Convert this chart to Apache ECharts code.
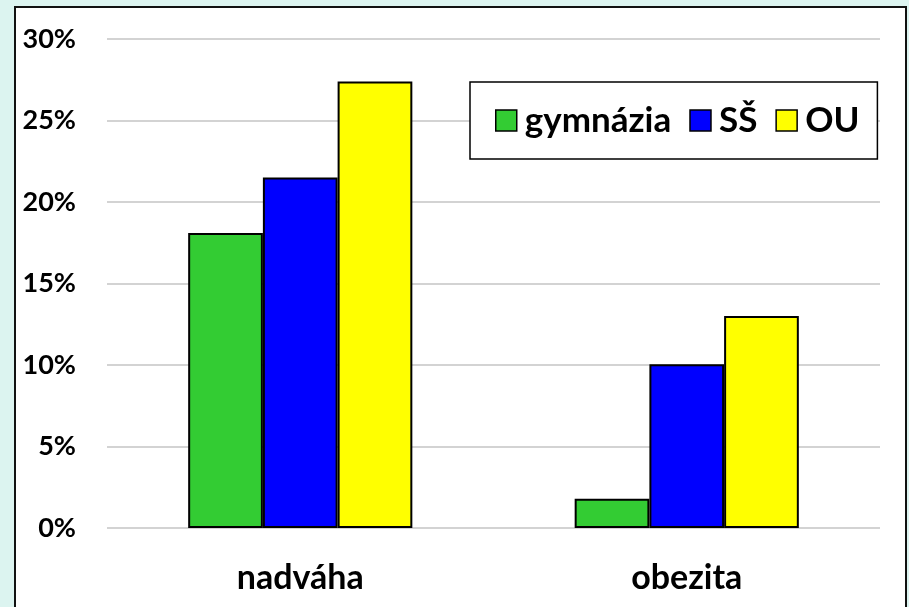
<!DOCTYPE html>
<html>
<head>
<meta charset="utf-8">
<script src="https://cdn.jsdelivr.net/npm/echarts@6/dist/echarts.min.js"></script>
<style>
  html, body { margin: 0; padding: 0; background: #dcf4f0; }
  #chart { width: 909px; height: 607px; }
</style>
</head>
<body>
<div id="chart"></div>
<script>
// data (percent)
const categories = ['nadváha', 'obezita']
const gymnazia = [18.1, 1.8]
const ss = [21.5, 10.05]
const ou = [27.4, 13.0]
const seriesNames = ['gymnázia', 'SŠ', 'OU']
const colors = ['#33cc33', '#0000ff', '#ffff00']

const chart = echarts.init(document.getElementById('chart'))

const font = 'Lato, "Open Sans", sans-serif'

function barSeries(name, data, color) {
  return {
    name: name,
    type: 'bar',
    data: data,
    barGap: '0%',
    barCategoryGap: '42%',
    itemStyle: { color: color, borderColor: '#000', borderWidth: 2 },
    emphasis: { disabled: true }
  }
}

const option = {
  backgroundColor: '#dcf4f0',
  animation: false,
  graphic: [{
    type: 'rect',
    z: -10,
    shape: { x: 15, y: 7, width: 891, height: 620 },
    style: { fill: '#fff', stroke: '#111', lineWidth: 2 }
  }],
  color: colors,
  legend: {
    data: seriesNames,
    left: 470,
    top: 82,
    padding: [21, 18, 21, 25],
    itemGap: 18,
    itemWidth: 21,
    itemHeight: 21,
    icon: 'rect',
    backgroundColor: '#fff',
    borderColor: '#000',
    borderWidth: 1.5,
    borderRadius: 0,
    selectedMode: false,
    itemStyle: { borderColor: '#000', borderWidth: 1.5 },
    textStyle: { fontFamily: font, fontWeight: 'bold', fontSize: 35, color: '#000', padding: [0, 0, 0, 3] }
  },
  grid: { left: 107, right: 29, top: 39, bottom: 79 },
  xAxis: {
    type: 'category',
    data: categories,
    axisLine: { show: false },
    axisTick: { show: false },
    axisLabel: { margin: 33, fontFamily: font, fontWeight: 'bold', fontSize: 34, color: '#000' }
  },
  yAxis: {
    type: 'value',
    min: 0,
    max: 30,
    interval: 5,
    axisLine: { show: false },
    axisTick: { show: false },
    splitLine: { lineStyle: { color: '#c4c4c4', width: 1.5 } },
    axisLabel: {
      margin: 31,
      formatter: '{value}%',
      fontFamily: font,
      fontWeight: 'bold',
      fontSize: 27,
      color: '#000'
    }
  },
  series: [
    barSeries(seriesNames[0], gymnazia, colors[0]),
    barSeries(seriesNames[1], ss, colors[1]),
    barSeries(seriesNames[2], ou, colors[2])
  ]
}

chart.setOption(option)
</script>
</body>
</html>
